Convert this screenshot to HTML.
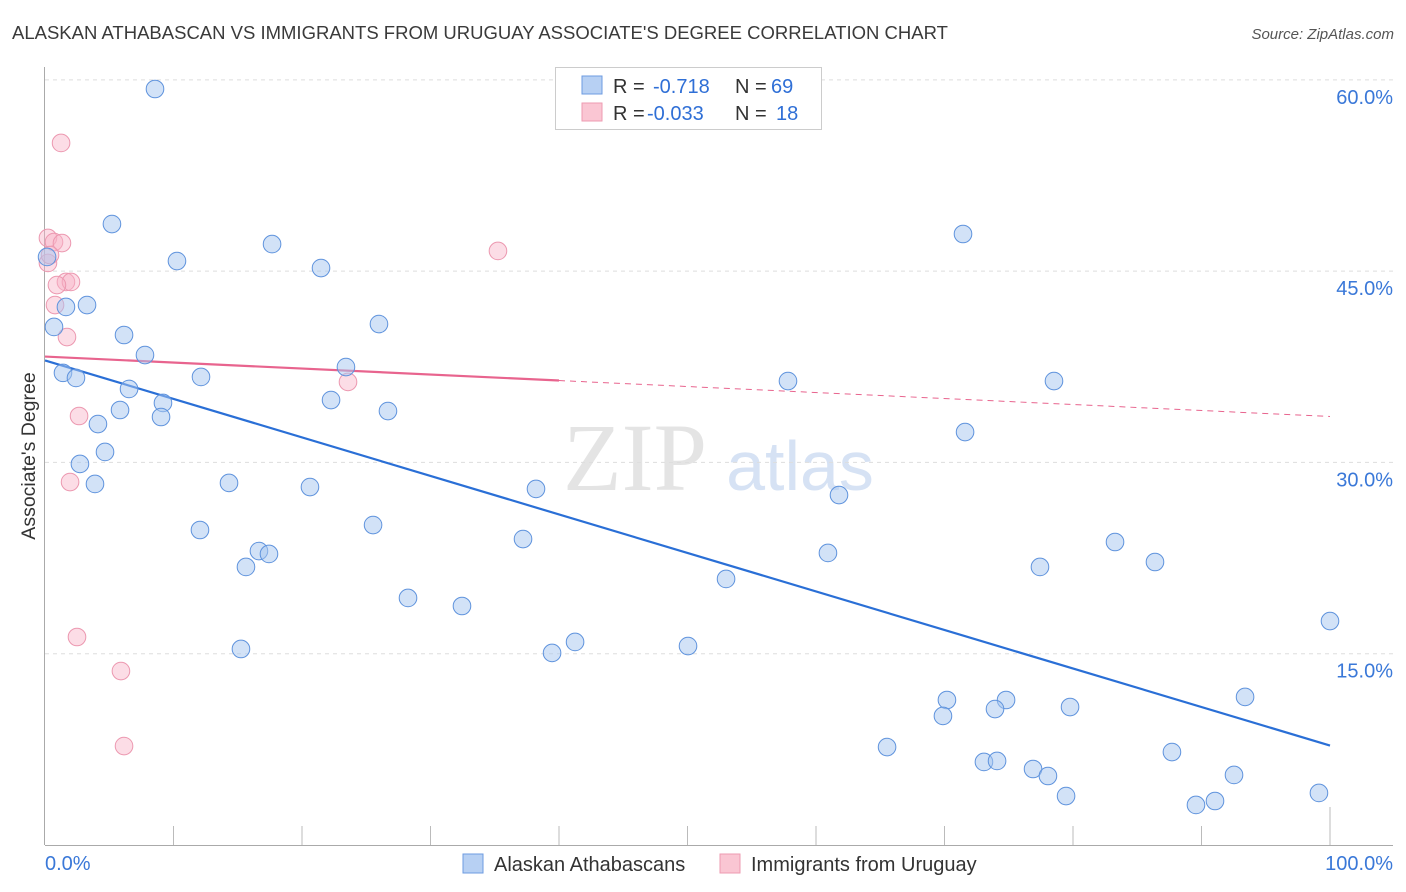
<!DOCTYPE html>
<html><head><meta charset="utf-8"><style>
body{margin:0;background:#fff;font-family:"Liberation Sans",sans-serif;}
#wrap{position:relative;width:1406px;height:892px;overflow:hidden;}
</style></head><body>
<div id="wrap">
<svg id="svg" width="1406" height="892" xmlns="http://www.w3.org/2000/svg" font-family="Liberation Sans, sans-serif">
<text x="12" y="39" font-size="18.5" fill="#3a3a3a">ALASKAN ATHABASCAN VS IMMIGRANTS FROM URUGUAY ASSOCIATE'S DEGREE CORRELATION CHART</text>
<text x="1394" y="39" font-size="15" fill="#555" font-style="italic" text-anchor="end">Source: ZipAtlas.com</text>
<text x="35" y="456" font-size="19.5" fill="#333" text-anchor="middle" transform="rotate(-90 35 456)">Associate's Degree</text>
<g><text x="635" y="490" font-size="96" fill="#e4e4e4" font-family="Liberation Serif, serif" text-anchor="middle">ZIP</text><text x="800" y="490" font-size="70" fill="#d6e2f4" text-anchor="middle">atlas</text></g>
<g id="grid"></g><g id="axes"></g><g id="trend"></g><g id="pts"></g>
<g>
<rect x="555.5" y="67.5" width="266" height="62" fill="#fff" stroke="#ccc"/>
<rect x="582" y="76" width="20" height="18" fill="#b7d0f3" stroke="#6d9be0"/>
<rect x="582" y="103" width="20" height="18" fill="#fac6d3" stroke="#ee9bb2"/>
<text y="93" font-size="20" fill="#333"><tspan x="613">R =</tspan><tspan x="653" fill="#2f6fd6">-0.718</tspan><tspan x="735">N =</tspan><tspan x="771" fill="#2f6fd6">69</tspan></text>
<text y="120" font-size="20" fill="#333"><tspan x="613">R =</tspan><tspan x="647" fill="#2f6fd6">-0.033</tspan><tspan x="735">N =</tspan><tspan x="776" fill="#2f6fd6">18</tspan></text>
</g>
<g>
<rect x="463" y="854" width="20" height="19" fill="#b7d0f3" stroke="#6d9be0"/>
<text x="494" y="871" font-size="20" fill="#333">Alaskan Athabascans</text>
<rect x="720" y="854" width="20" height="19" fill="#fac6d3" stroke="#ee9bb2"/>
<text x="751" y="871" font-size="20" fill="#333">Immigrants from Uruguay</text>
</g>
</svg></div>
<script>
const yTicks=[15,30,45,60];
const yTickLabels=["15.0%","30.0%","45.0%","60.0%"];
const xLabels=["0.0%","100.0%"];
const blueX=[8.56,5.21,10.27,17.67,21.48,71.44,3.27,1.63,0.70,6.15,7.78,25.99,1.40,2.41,12.14,23.42,6.54,57.82,78.52,9.18,22.26,5.84,9.03,26.69,4.12,71.60,4.67,2.72,3.89,14.32,20.62,38.21,61.79,25.53,12.06,37.20,83.27,60.93,16.65,17.43,15.64,77.43,86.38,53.00,28.25,32.45,100,41.25,39.46,50.04,15.25,70.19,69.88,74.79,73.93,79.77,93.39,65.53,73.07,74.09,87.70,76.89,78.05,92.53,79.46,99.14,89.57,91.05,0.16];
const blueY=[59.28,48.69,45.79,47.12,45.24,47.91,42.34,42.19,40.62,39.99,38.42,40.85,37.02,36.62,36.70,37.48,35.76,36.38,36.38,34.66,34.89,34.11,33.56,34.03,33.01,32.38,30.82,29.88,28.31,28.39,28.07,27.92,27.44,25.09,24.70,23.99,23.76,22.90,23.05,22.82,21.80,21.80,22.19,20.86,19.37,18.74,17.56,15.92,15.06,15.60,15.37,11.37,10.12,11.37,10.66,10.82,11.61,7.68,6.51,6.59,7.29,5.96,5.41,5.49,3.84,4.08,3.14,3.45,46.11];
const pinkX=[1.25,0.23,0.70,1.32,35.25,0.23,0.78,1.63,2.02,0.93,1.71,2.65,23.58,1.95,2.49,5.91,6.15,0.39];
const pinkY=[55.05,47.60,47.28,47.20,46.58,45.64,42.34,44.15,44.15,43.91,39.83,33.64,36.31,28.46,16.31,13.64,7.76,46.26];
const blueTrend=[38.0,7.8];
const pinkTrend=[38.3,33.6];
const pinkSolidEnd=40;
const X=v=>45+v*12.85, Y=v=>845-v*12.753;
const NS="http://www.w3.org/2000/svg";
function mk(t,a,p){const e=document.createElementNS(NS,t);for(const k in a)e.setAttribute(k,a[k]);p.appendChild(e);return e;}
const grid=document.getElementById('grid'),axes=document.getElementById('axes'),tr=document.getElementById('trend'),pts=document.getElementById('pts');
yTicks.forEach((v,i)=>{
 const l=mk('line',{x1:45,x2:1393,y1:Y(v),y2:Y(v),stroke:'#ddd','stroke-dasharray':'4,4'},grid);
 
 
 const t=mk('text',{x:1393,y:Y(v)+24,'font-size':20,fill:'#3a78d8','text-anchor':'end'},axes);
 t.textContent=yTickLabels[i];
 
 
});
mk('line',{x1:44.5,x2:44.5,y1:67,y2:845,stroke:'#aaa'},axes);
mk('line',{x1:45,x2:1393,y1:845.5,y2:845.5,stroke:'#aaa'},axes);
for(let i=1;i<=10;i++){const x=X(i*10);mk('line',{x1:x,x2:x,y1:i==10?807:826,y2:845,stroke:'#bbb'},axes);}
const xl0=mk('text',{x:45,y:870,'font-size':20,fill:'#3a78d8'},axes);xl0.textContent=xLabels[0];


const xl1=mk('text',{x:1393,y:870,'font-size':20,fill:'#3a78d8','text-anchor':'end'},axes);xl1.textContent=xLabels[1];


pinkX.forEach((x,i)=>{const c=mk('circle',{cx:X(x),cy:Y(pinkY[i]),r:8.8,fill:'rgba(248,180,200,0.45)',stroke:'#ec98b0','stroke-width':1},pts);
 
 });
blueX.forEach((x,i)=>{const c=mk('circle',{cx:X(x),cy:Y(blueY[i]),r:8.8,fill:'rgba(165,198,240,0.5)',stroke:'#5f93dd','stroke-width':1},pts);
 
 });
const pAt=v=>pinkTrend[0]+(pinkTrend[1]-pinkTrend[0])*v/100;
const b=mk('line',{x1:X(0),y1:Y(blueTrend[0]),x2:X(100),y2:Y(blueTrend[1]),stroke:'#2a6fd6','stroke-width':2.2},tr);


const p1=mk('line',{x1:X(0),y1:Y(pAt(0)),x2:X(pinkSolidEnd),y2:Y(pAt(pinkSolidEnd)),stroke:'#e8648e','stroke-width':2.2},tr);


const p2=mk('line',{x1:X(pinkSolidEnd),y1:Y(pAt(pinkSolidEnd)),x2:X(100),y2:Y(pAt(100)),stroke:'#e8648e','stroke-width':1,'stroke-dasharray':'6,5'},tr);


</script>
</body></html>
